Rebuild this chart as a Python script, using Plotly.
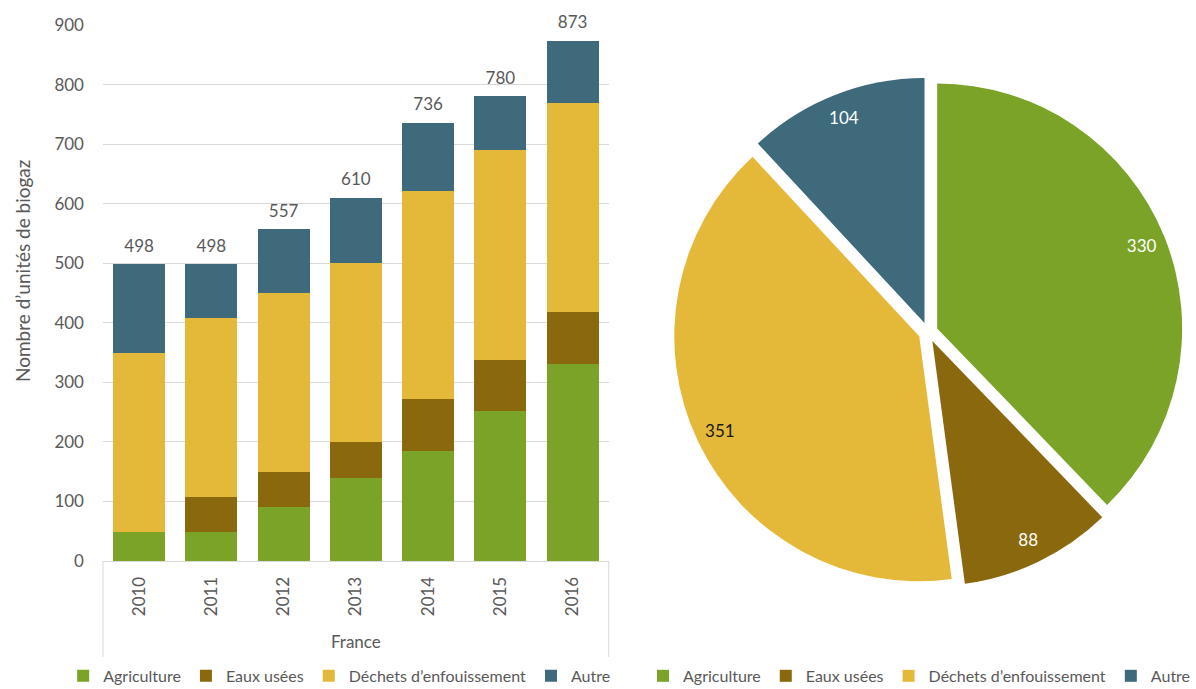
import plotly.graph_objects as go

years = ["2010", "2011", "2012", "2013", "2014", "2015", "2016"]
series_names = ["Agriculture", "Eaux usées", "Déchets d’enfouissement", "Autre"]
agriculture = [48, 48, 90, 140, 185, 252, 330]
eaux_usees = [0, 59, 60, 59, 87, 86, 88]
dechets = [302, 301, 300, 301, 350, 352, 351]
autre = [148, 90, 107, 110, 114, 90, 104]
pie_values = [330, 88, 351, 104]
y_ticks = [0, 100, 200, 300, 400, 500, 600, 700, 800, 900]
y_title = "Nombre d’unités de biogaz"
x_title = "France"

colors = ["#7ba328", "#8a680e", "#e4b93a", "#3e6a7c"]
FONT = "Lato, 'Open Sans', sans-serif"
GREY = "#595959"

series = [agriculture, eaux_usees, dechets, autre]
totals = [sum(v) for v in zip(*series)]

fig = go.Figure()
for name, vals, col in zip(series_names, series, colors):
    fig.add_trace(go.Bar(x=years, y=vals, name=name, marker_color=col,
                         marker_line_width=0, legend="legend", hoverinfo="skip"))

# total labels above each stacked bar (invisible marker pads the text upward)
fig.add_trace(go.Scatter(x=years, y=totals, mode="markers+text",
                         text=[str(t) for t in totals], textposition="top center",
                         marker=dict(size=12, opacity=0), showlegend=False,
                         textfont=dict(size=17, color=GREY, family=FONT),
                         hoverinfo="skip", cliponaxis=False))

pie_domain = dict(x=[0.563, 0.989], y=[0.148, 0.888])
pull = 0.04

# main pie (colours)
fig.add_trace(go.Pie(labels=series_names, values=pie_values, sort=False,
                     direction="clockwise", rotation=0,
                     marker=dict(colors=colors, line=dict(width=0)),
                     pull=pull, textinfo="none",
                     domain=pie_domain, legend="legend2", hoverinfo="skip"))
# transparent ring overlay that carries the value labels near the outer edge
fig.add_trace(go.Pie(labels=series_names, values=pie_values, sort=False,
                     direction="clockwise", rotation=0, hole=0.8,
                     marker=dict(colors=["rgba(0,0,0,0)"] * 4, line=dict(width=0)),
                     pull=pull, textinfo="value", textposition="inside",
                     insidetextorientation="horizontal",
                     insidetextfont=dict(size=17, family=FONT,
                                         color=["#ffffff", "#ffffff", "#1a1a1a", "#ffffff"]),
                     domain=pie_domain, showlegend=False, hoverinfo="skip"))

fig.update_layout(
    width=1196, height=689,
    margin=dict(l=0, r=0, t=0, b=0, autoexpand=False),
    paper_bgcolor="white", plot_bgcolor="white",
    barmode="stack", bargap=0.28,
    font=dict(family=FONT, color=GREY, size=17),
    xaxis=dict(type="category", domain=[0.0861, 0.509], tickangle=-90, showgrid=False,
               automargin=False, showline=True, linecolor="#d9d9d9", linewidth=1,
               ticks="", ticklabelstandoff=8, tickfont=dict(size=17, color=GREY),
               title=dict(text=x_title, standoff=20, font=dict(size=17, color=GREY))),
    yaxis=dict(domain=[0.1858, 0.9637], range=[0, 900], tickvals=y_ticks, automargin=False,
               showgrid=True, gridcolor="#d9d9d9", gridwidth=1, zeroline=False,
               showline=False, ticks="", ticklabelstandoff=18,
               tickfont=dict(size=17, color=GREY)),
    legend=dict(orientation="h", x=0.284, xanchor="center", y=0.019, yanchor="middle",
                traceorder="normal", font=dict(size=16, color=GREY),
                itemwidth=30, bgcolor="rgba(0,0,0,0)"),
    legend2=dict(orientation="h", x=1.0, xanchor="right", y=0.019, yanchor="middle",
                 traceorder="normal", font=dict(size=16, color=GREY),
                 itemwidth=30, bgcolor="rgba(0,0,0,0)"),
    annotations=[
        dict(text=y_title, xref="paper", yref="paper", x=22 / 1196, y=1 - 271 / 689,
             xanchor="center", yanchor="middle", textangle=-90, showarrow=False,
             font=dict(size=19, color=GREY, family=FONT)),
    ],
    shapes=[
        dict(type="line", xref="x domain", yref="paper", x0=0, x1=0,
             y0=1 - 561 / 689, y1=1 - 657 / 689, line=dict(color="#d9d9d9", width=1)),
        dict(type="line", xref="x domain", yref="paper", x0=1, x1=1,
             y0=1 - 561 / 689, y1=1 - 657 / 689, line=dict(color="#d9d9d9", width=1)),
    ],
)

fig.write_html("out.html", config={"displayModeBar": False},
               post_script="document.body.style.margin='0';")
